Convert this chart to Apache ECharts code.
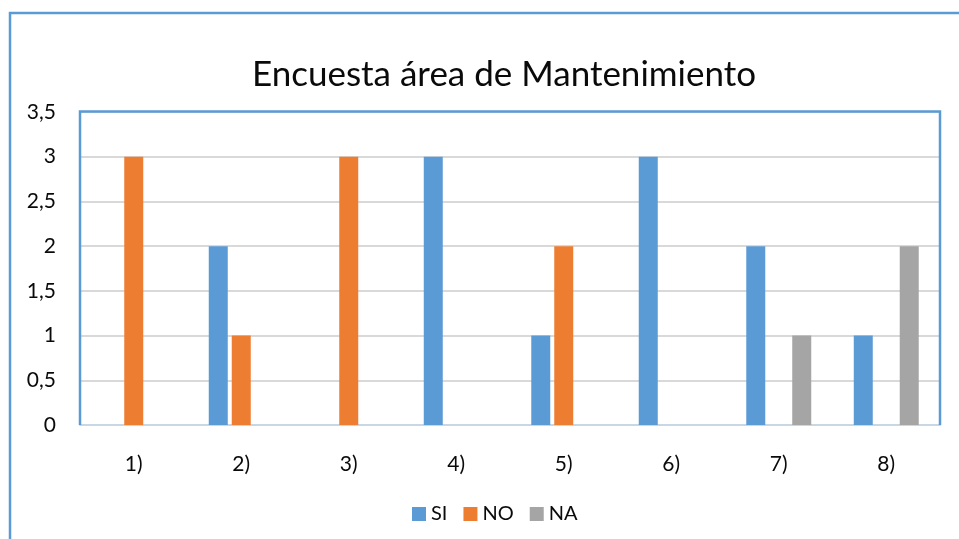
<!DOCTYPE html>
<html>
<head>
<meta charset="utf-8">
<script src="https://cdn.jsdelivr.net/npm/echarts@6/dist/echarts.min.js"></script>
<style>
  html, body { margin: 0; padding: 0; background: #ffffff; }
  #chart { width: 959px; height: 539px; }
</style>
</head>
<body>
<div id="chart"></div>
<script>
// Survey results for the maintenance area, one group of bars per question
const categories = ['1)', '2)', '3)', '4)', '5)', '6)', '7)', '8)'];
const siValues = [0, 2, 0, 3, 1, 3, 2, 1];
const noValues = [3, 1, 3, 0, 2, 0, 0, 0];
const naValues = [0, 0, 0, 0, 0, 0, 1, 2];
const yTicks = [0, 0.5, 1, 1.5, 2, 2.5, 3, 3.5];

const FONT = 'Lato';
const TEXT = '#0a0a0a';
const BLUE = '#5b9bd5';
const chart = echarts.init(document.getElementById('chart'), null, { renderer: 'canvas' });

const barStyle = (name, data, color) => ({
  name: name,
  type: 'bar',
  data: data,
  barWidth: 19,
  barGap: '21%',
  itemStyle: { color: color },
  emphasis: { disabled: true }
});

chart.setOption({
  animation: false,
  textStyle: { fontFamily: FONT },
  graphic: [
    {
      // outer chart frame
      type: 'rect',
      shape: { x: 10, y: 13, width: 1000, height: 600 },
      style: { fill: 'none', stroke: BLUE, lineWidth: 2.5 },
      silent: true,
      z: 100
    },
    {
      // plot-area frame (left, top, right sides)
      type: 'polyline',
      shape: { points: [[80, 425], [80, 111.5], [940, 111.5], [940, 425]] },
      style: { fill: 'none', stroke: BLUE, lineWidth: 2.5 },
      silent: true,
      z: 100
    }
  ],
  title: {
    text: 'Encuesta área de Mantenimiento',
    left: 499,
    textAlign: 'center',
    top: 52,
    textStyle: { fontFamily: FONT, fontSize: 35, fontWeight: 'normal', color: TEXT }
  },
  legend: {
    left: 407,
    top: 499,
    itemWidth: 14,
    itemHeight: 14,
    itemGap: 16,
    icon: 'rect',
    textStyle: { fontFamily: FONT, fontSize: 20, color: TEXT },
    data: ['SI', 'NO', 'NA']
  },
  grid: {
    left: 80, top: 112, right: 19, bottom: 114,
    show: false,
    containLabel: false
  },
  xAxis: {
    type: 'category',
    data: categories,
    axisTick: { show: false },
    axisLine: { lineStyle: { color: '#c9d6e3', width: 2 } },
    axisLabel: { fontFamily: FONT, fontSize: 21, color: TEXT, margin: 29 }
  },
  yAxis: {
    type: 'value',
    min: yTicks[0],
    max: yTicks[yTicks.length - 1],
    interval: 0.5,
    axisLine: { show: false },
    axisTick: { show: false },
    splitLine: { lineStyle: { color: '#d9d9d9', width: 2 } },
    axisLabel: {
      fontFamily: FONT, fontSize: 21, color: TEXT, margin: 24,
      formatter: v => String(v).replace('.', ',')
    }
  },
  series: [
    barStyle('SI', siValues, BLUE),
    barStyle('NO', noValues, '#ed7d31'),
    barStyle('NA', naValues, '#a5a5a5')
  ]
});
</script>
</body>
</html>
